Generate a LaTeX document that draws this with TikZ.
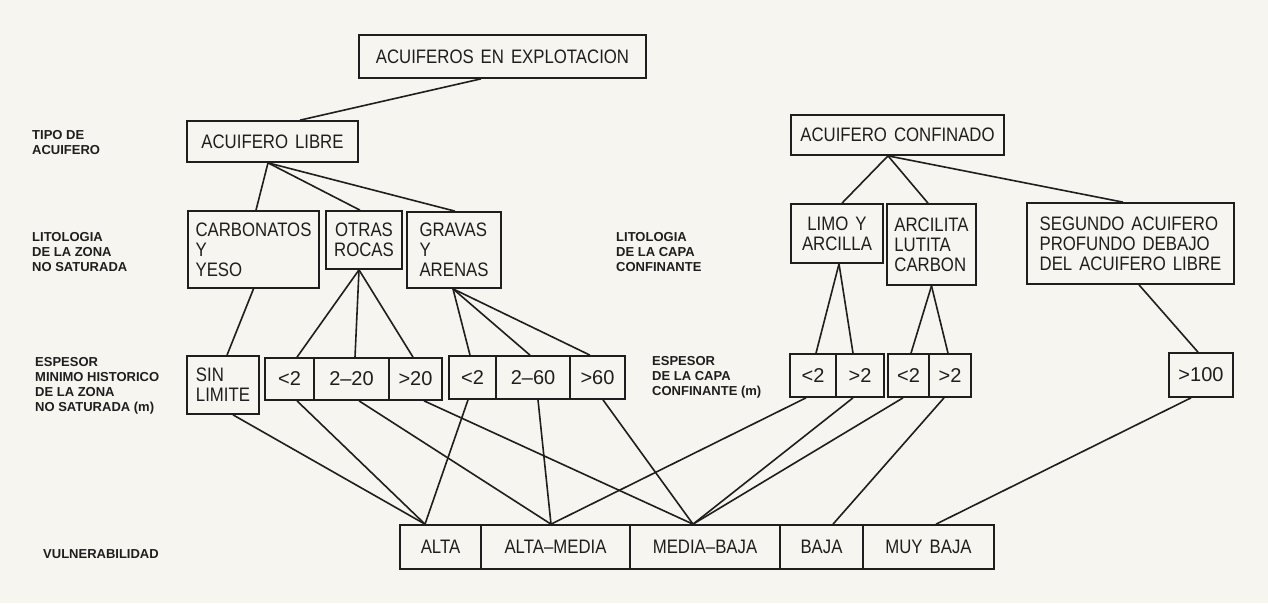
\documentclass[tikz,border=0pt]{standalone}
\usepackage{fontspec}
\newfontfamily\boxfont[FakeStretch=0.86,WordSpace=1.5]{Liberation Sans}
\newfontfamily\numfont{Liberation Sans}
\newfontfamily\labfont{Liberation Sans}
\definecolor{ink}{RGB}{30,30,30}
\definecolor{paper}{RGB}{246,245,240}
\begin{document}
\begin{tikzpicture}[x=1pt,y=-1pt,
  bx/.style={draw=ink,line width=1.7pt,inner sep=0pt,text=ink,align=left,font=\boxfont\fontsize{19.5}{20}\selectfont},
  nb/.style={draw=ink,line width=1.7pt,inner sep=0pt,text=ink,align=center,font=\numfont\fontsize{20}{22}\selectfont},
  lab/.style={anchor=north west,inner sep=0pt,align=left,text=ink,font=\labfont\bfseries\fontsize{13}{15}\selectfont},
  con/.style={draw=ink,line width=1.6pt}]
\fill[paper] (0,0) rectangle (1268,603);
\useasboundingbox (0,0) rectangle (1268,603);

% left labels
\node[lab] (tipo) at (32,130) {TIPO DE\\ACUIFERO};
\node[lab] (lit1) at (32,232) {LITOLOGIA\\DE LA ZONA\\NO SATURADA};
\node[lab] (lit2) at (616,232) {LITOLOGIA\\DE LA CAPA\\CONFINANTE};
\node[lab] (esp1) at (35,357) {ESPESOR\\MINIMO HISTORICO\\DE LA ZONA\\NO SATURADA (m)};
\node[lab] (esp2) at (652,356) {ESPESOR\\DE LA CAPA\\CONFINANTE (m)};
\node[lab] (vul) at (43,549) {VULNERABILIDAD};

% top levels
\node[bx,minimum width=287pt,minimum height=43pt] (acuex) at (502.5,56.5) {ACUIFEROS EN EXPLOTACION};
\node[bx,minimum width=171pt,minimum height=41pt] (libre) at (272.5,141.5) {ACUIFERO LIBRE};
\node[bx,minimum width=213pt,minimum height=40pt] (conf) at (897.5,135) {ACUIFERO CONFINADO};

% lithology
\node[bx,minimum width=131pt,minimum height=77pt] (carb) at (253.5,249.5) {CARBONATOS\\Y\\YESO};
\node[bx,align=center,minimum width=76pt,minimum height=58pt] (otras) at (364,240) {OTRAS\\ROCAS};
\node[bx,minimum width=94pt,minimum height=76pt] (grav) at (454,250) {GRAVAS\\Y\\ARENAS};
\node[bx,align=center,minimum width=92pt,minimum height=59pt] (limo) at (837,233.5) {LIMO Y\\ARCILLA};
\node[bx,minimum width=89pt,minimum height=81pt] (arcil) at (931.5,244.5) {ARCILITA\\LUTITA\\CARBON};
\node[bx,minimum width=207pt,minimum height=81pt] (seg) at (1130.5,243.5) {SEGUNDO ACUIFERO\\PROFUNDO DEBAJO\\DEL ACUIFERO LIBRE};

% thickness
\node[bx,minimum width=72pt,minimum height=58pt] (sin) at (223,385) {SIN\\LIMITE};
\node[nb,minimum width=49pt,minimum height=42pt] (a1) at (289.5,379) {<2};
\node[nb,minimum width=75pt,minimum height=42pt] (a2) at (351.5,379) {2–20};
\node[nb,minimum width=53pt,minimum height=42pt] (a3) at (415.5,379) {>20};
\node[nb,minimum width=47pt,minimum height=43pt] (b1) at (472.5,377.5) {<2};
\node[nb,minimum width=74pt,minimum height=43pt] (b2) at (533,377.5) {2–60};
\node[nb,minimum width=55pt,minimum height=43pt] (b3) at (597.5,377.5) {>60};
\node[nb,minimum width=46pt,minimum height=43pt] (c1) at (813,375.5) {<2};
\node[nb,minimum width=48pt,minimum height=43pt] (c2) at (860,375.5) {>2};
\node[nb,minimum width=41pt,minimum height=43pt] (d1) at (908.5,375.5) {<2};
\node[nb,minimum width=42pt,minimum height=43pt] (d2) at (950,375.5) {>2};
\node[nb,minimum width=64pt,minimum height=44pt] (e1) at (1201,375) {>100};

% vulnerability
\node[bx,align=center,minimum width=81pt,minimum height=44pt] (alta) at (440.5,547) {ALTA};
\node[bx,align=center,minimum width=149pt,minimum height=44pt] (am) at (555.5,547) {ALTA–MEDIA};
\node[bx,align=center,minimum width=150pt,minimum height=44pt] (mb) at (705,547) {MEDIA–BAJA};
\node[bx,align=center,minimum width=83pt,minimum height=44pt] (baja) at (821.5,547) {BAJA};
\node[bx,align=center,minimum width=131pt,minimum height=44pt] (mbaja) at (928.5,547) {MUY BAJA};

% connectors top
\draw[con] ([xshift=-21.5pt]acuex.south) -- ([xshift=27.5pt]libre.north);
\draw[con] ([xshift=-4.5pt]libre.south) -- ([xshift=2.5pt]carb.north);
\draw[con] ([xshift=-4.5pt]libre.south) -- ([xshift=-4pt]otras.north);
\draw[con] ([xshift=-4.5pt]libre.south) -- ([xshift=1pt]grav.north);
\draw[con] ([xshift=-9.5pt]conf.south) -- ([xshift=5pt]limo.north);
\draw[con] ([xshift=-9.5pt]conf.south) -- ([xshift=-3.5pt]arcil.north);
\draw[con] ([xshift=-9.5pt]conf.south) -- ([xshift=-7.5pt]seg.north);

% lithology to thickness
\draw[con] (carb.south) -- ([xshift=4pt]sin.north);
\draw[con] ([xshift=-5pt]otras.south) -- ([xshift=7.5pt]a1.north);
\draw[con] ([xshift=-5pt]otras.south) -- ([xshift=3.5pt]a2.north);
\draw[con] ([xshift=-5pt]otras.south) -- ([xshift=-2.5pt]a3.north);
\draw[con] ([xshift=-1pt]grav.south) -- ([xshift=-2.5pt]b1.north);
\draw[con] ([xshift=-1pt]grav.south) -- ([xshift=-3pt]b2.north);
\draw[con] ([xshift=-1pt]grav.south) -- ([xshift=-7.5pt]b3.north);
\draw[con] ([xshift=2pt]limo.south) -- ([xshift=3pt]c1.north);
\draw[con] ([xshift=2pt]limo.south) -- ([xshift=-7pt]c2.north);
\draw[con] (arcil.south) -- ([xshift=2.5pt]d1.north);
\draw[con] (arcil.south) -- ([xshift=-2pt]d2.north);
\draw[con] ([xshift=8.5pt]seg.south) -- ([xshift=-3pt]e1.north);

% thickness to vulnerability
\draw[con] ([xshift=10pt]sin.south) -- ([xshift=-15.5pt]alta.north);
\draw[con] ([xshift=7.5pt]a1.south) -- ([xshift=-15.5pt]alta.north);
\draw[con] ([xshift=-4.5pt]b1.south) -- ([xshift=-15.5pt]alta.north);
\draw[con] ([xshift=7.5pt]a2.south) -- ([xshift=-4.5pt]am.north);
\draw[con] ([xshift=5pt]b2.south) -- ([xshift=-4.5pt]am.north);
\draw[con] ([xshift=-7pt]c1.south) -- ([xshift=-4.5pt]am.north);
\draw[con] ([xshift=8.5pt]a3.south) -- ([xshift=-12pt]mb.north);
\draw[con] ([xshift=5.5pt]b3.south) -- ([xshift=-12pt]mb.north);
\draw[con] ([xshift=-7pt]c2.south) -- ([xshift=-12pt]mb.north);
\draw[con] ([xshift=-5.5pt]d1.south) -- ([xshift=-12pt]mb.north);
\draw[con] ([xshift=-6pt]d2.south) -- ([xshift=11.5pt]baja.north);
\draw[con] ([xshift=-10pt]e1.south) -- ([xshift=7.5pt]mbaja.north);
\end{tikzpicture}
\end{document}
